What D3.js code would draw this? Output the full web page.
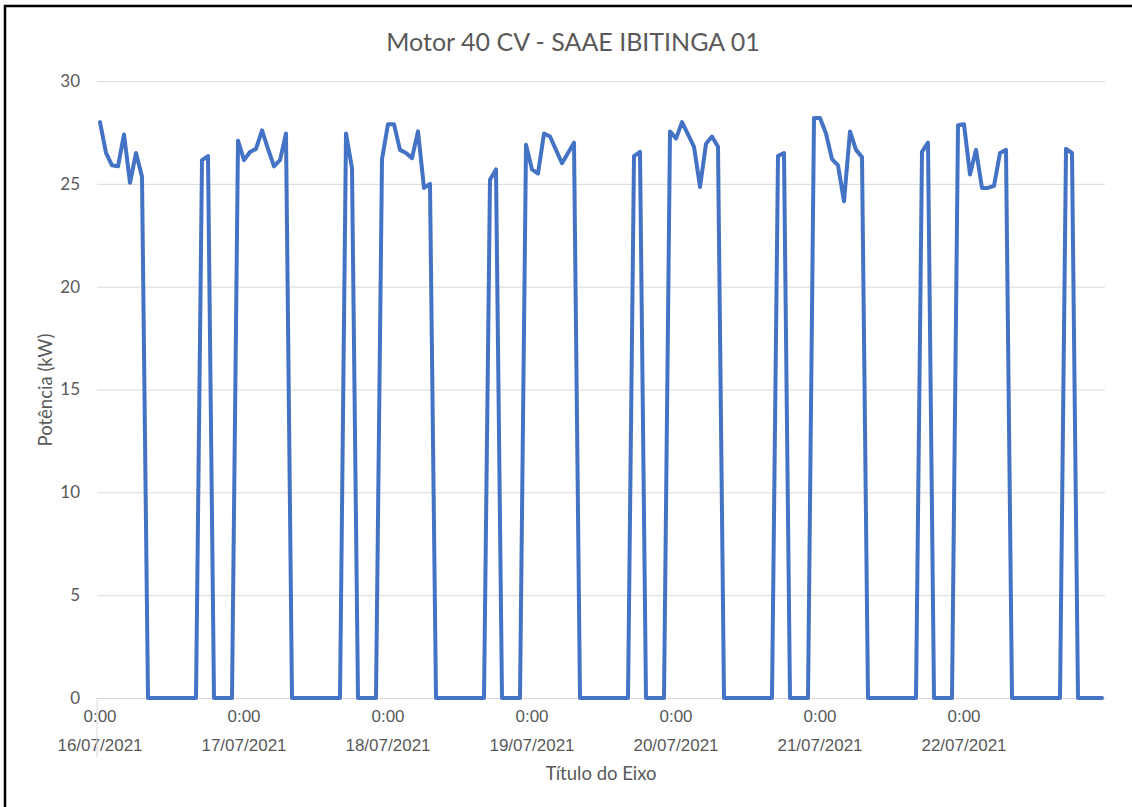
<!DOCTYPE html>
<html>
<head>
<meta charset="utf-8">
<script src="https://cdnjs.cloudflare.com/ajax/libs/d3/7.8.5/d3.min.js"></script>
<style>
  body { margin:0; background:#fff; }
  svg { display:block; font-family: Lato, "Open Sans", sans-serif; }
</style>
</head>
<body>
<svg id="chart"></svg>
<script>
// chart data: hourly power readings, 16/07/2021 0:00 to 22/07/2021 23:00
var chartTitle = "Motor 40 CV - SAAE IBITINGA 01"
var yTitle = "Potência (kW)"
var xTitle = "Título do Eixo"
var dayLabels = ["16/07/2021","17/07/2021","18/07/2021","19/07/2021","20/07/2021","21/07/2021","22/07/2021"]
var hourLabel = "0:00"
var yTicks = [0,5,10,15,20,25,30]

var power = [
  28.0, 26.5, 25.9, 25.85, 27.4, 25.05, 26.5, 25.35,
  0, 0, 0, 0, 0, 0, 0, 0, 0,
  26.15, 26.35,
  0, 0, 0, 0,
  27.1, 26.15, 26.55, 26.7, 27.6, 26.7, 25.85, 26.15, 27.45,
  0, 0, 0, 0, 0, 0, 0, 0, 0,
  27.45, 25.75,
  0, 0, 0, 0,
  26.2, 27.9, 27.9, 26.65, 26.5, 26.25, 27.55, 24.8, 25.0,
  0, 0, 0, 0, 0, 0, 0, 0, 0,
  25.2, 25.7,
  0, 0, 0, 0,
  26.9, 25.7, 25.5, 27.45, 27.3, 26.65, 26.0, 26.5, 27.0,
  0, 0, 0, 0, 0, 0, 0, 0, 0,
  26.35, 26.55,
  0, 0, 0, 0,
  27.55, 27.2, 28.0, 27.4, 26.8, 24.85, 26.95, 27.3, 26.8,
  0, 0, 0, 0, 0, 0, 0, 0, 0,
  26.35, 26.5,
  0, 0, 0, 0,
  28.2, 28.2, 27.45, 26.2, 25.9, 24.15, 27.55, 26.65, 26.3,
  0, 0, 0, 0, 0, 0, 0, 0, 0,
  26.55, 27.0,
  0, 0, 0, 0,
  27.85, 27.9, 25.45, 26.65, 24.8, 24.8, 24.9, 26.5, 26.65,
  0, 0, 0, 0, 0, 0, 0, 0, 0,
  26.7, 26.5,
  0, 0, 0, 0, 0
]

var screen = {width:1132, height:807}
var plot = {left:97, right:1105, top:81, bottom:698}
var textColor = "#595959"
var gridColor = "#d9d9d9"
var tickFont = "17px"
var axisTitleFont = "18.5px"

// one category per hour
var hours = power.map(function(d,i){ return i })

var svg = d3.select("#chart")
    .attr("width",screen.width)
    .attr("height",screen.height)

// frame of the chart area
svg.append("rect")
    .attr("x",5)
    .attr("y",6)
    .attr("width",1150)
    .attr("height",820)
    .attr("fill","#fff")
    .attr("stroke","#000")
    .attr("stroke-width",2.5)

var xScale = d3.scaleBand()
    .domain(hours)
    .range([plot.left,plot.right])
    .paddingInner(0)
    .paddingOuter(0)

var yScale = d3.scaleLinear()
    .domain([0,30])
    .range([plot.bottom,plot.top])

var xPos = function(i){ return xScale(i)+xScale.bandwidth()/2 }

// y axis with gridlines
var yAxis = d3.axisLeft(yScale)
    .tickValues(yTicks)
    .tickSize(-(plot.right-plot.left))
    .tickPadding(17)

var yg = svg.append("g")
    .attr("transform","translate("+plot.left+",0)")
    .call(yAxis)
yg.select(".domain").remove()
yg.selectAll(".tick line").attr("stroke",gridColor).attr("stroke-width",1)
yg.selectAll(".tick text")
    .attr("fill",textColor)
    .style("font-size",tickFont)
    .style("font-family","Lato, sans-serif")

// x axis
var dayStarts = dayLabels.map(function(d,k){ return k*24 })
var xAxis = d3.axisBottom(xScale)
    .tickValues(dayStarts)
    .tickSize(0)
    .tickFormat("")

var xg = svg.append("g")
    .attr("transform","translate(0,"+plot.bottom+")")
    .call(xAxis)
xg.select(".domain").attr("stroke",gridColor).attr("stroke-width",1)

xg.append("line")
    .attr("x1",plot.left).attr("x2",plot.left)
    .attr("y1",0).attr("y2",59)
    .attr("stroke",gridColor)

xg.selectAll(".tick").each(function(d,k){
    var t = d3.select(this)
    t.append("text")
        .attr("y",18)
        .attr("dy","0.35em")
        .attr("text-anchor","middle")
        .attr("fill",textColor)
        .style("font-size",tickFont)
        .text(hourLabel)
    t.append("text")
        .attr("y",47)
        .attr("dy","0.35em")
        .attr("text-anchor","middle")
        .attr("fill",textColor)
        .style("font-size",tickFont)
        .text(dayLabels[k])
})

// the line
var line = d3.line()
    .x(function(d,i){ return xPos(i) })
    .y(function(d){ return yScale(d) })

svg.append("path")
    .datum(power)
    .attr("d",line)
    .attr("fill","none")
    .attr("stroke","#4472C4")
    .attr("stroke-width",4)
    .attr("stroke-linejoin","round")
    .attr("stroke-linecap","round")

// titles
svg.append("text")
    .attr("x",573)
    .attr("y",42)
    .attr("dy","0.35em")
    .attr("text-anchor","middle")
    .attr("fill",textColor)
    .style("font-size","25px")
    .text(chartTitle)

svg.append("text")
    .attr("transform","translate(46,390) rotate(-90)")
    .attr("dy","0.35em")
    .attr("text-anchor","middle")
    .attr("fill",textColor)
    .style("font-size",axisTitleFont)
    .text(yTitle)

svg.append("text")
    .attr("x",601)
    .attr("y",774)
    .attr("dy","0.35em")
    .attr("text-anchor","middle")
    .attr("fill",textColor)
    .style("font-size",axisTitleFont)
    .text(xTitle)
</script>
</body>
</html>
